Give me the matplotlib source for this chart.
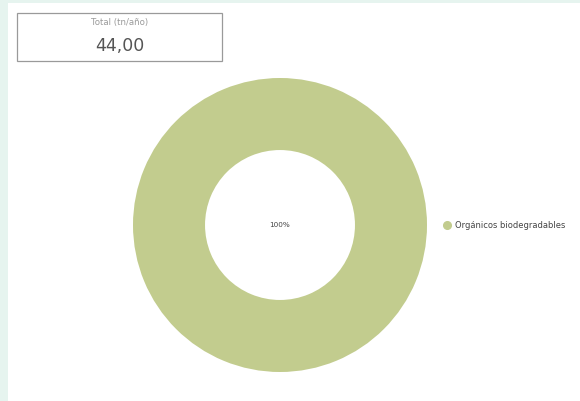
import matplotlib.pyplot as plt
from matplotlib.patches import Rectangle

labels = ["Orgánicos biodegradables"]
values = [44.0]
colors = ["#c2cc8e"]
total_title = "Total (tn/año)"
total_text = "44,00"

W, H = 580, 401
fig = plt.figure(figsize=(W / 100, H / 100), dpi=100)
fig.patch.set_facecolor("#e6f4ef")

# white card
fig.patches.append(Rectangle((8 / W, 0), 1, 1 - 3 / H, transform=fig.transFigure,
                             facecolor="white", edgecolor="none", zorder=0))

# total box
fig.patches.append(Rectangle((17 / W, 1 - 61 / H), 205 / W, 48 / H, transform=fig.transFigure,
                             facecolor="white", edgecolor="#9a9a9a", linewidth=0.9, zorder=1))
fig.text(119.5 / W, 1 - 23 / H, total_title, ha="center", va="center", fontsize=6.2, color="#9a9a9a")
fig.text(119.5 / W, 1 - 46 / H, total_text, ha="center", va="center", fontsize=12.5, color="#555555")

# donut
cx, cy, r = 280, 225, 147
ax = fig.add_axes([(cx - r) / W, 1 - (cy + r) / H, 2 * r / W, 2 * r / H])
ax.set_zorder(3)
ax.set_facecolor("none")
wedges, _ = ax.pie(values, colors=colors, startangle=90, counterclock=False,
                   wedgeprops=dict(width=0.49, edgecolor="none"))
ax.set_aspect("equal")
ax.set_xlim(-1, 1)
ax.set_ylim(-1, 1)
total = sum(values)
ax.text(0, 0, f"{values[0] / total * 100:.0f}%", ha="center", va="center", fontsize=5.2, color="#444444")

# legend
for i, lab in enumerate(labels):
    fig.lines.append(plt.Line2D([447 / W], [1 - 225 / H], marker="o", markersize=5.5,
                                color=colors[i], linestyle="none", transform=fig.transFigure, zorder=4))
    fig.text(455 / W, 1 - 225 / H, lab, ha="left", va="center", fontsize=6, color="#444444", zorder=4)

fig.savefig("out.png", dpi=100, facecolor=fig.get_facecolor())
